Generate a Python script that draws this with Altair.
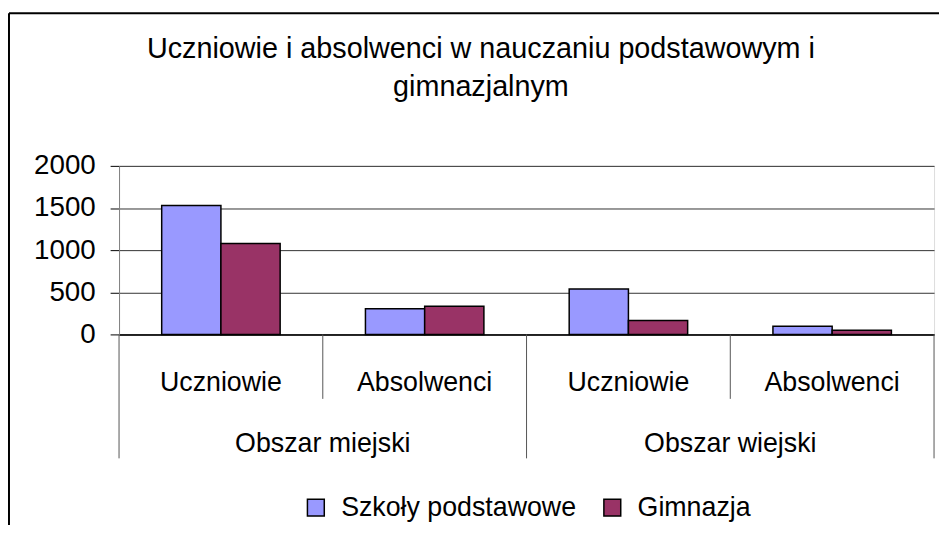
import altair as alt
import pandas as pd

# ---- data ----
groups = ["Obszar miejski", "Obszar wiejski"]
subcats = ["Uczniowie", "Absolwenci"]
series = ["Szkoły podstawowe", "Gimnazja"]
szkoly_podstawowe = [1530, 305, 540, 97]
gimnazja = [1080, 333, 165, 50]
y_ticks = [0, 500, 1000, 1500, 2000]
title_lines = ["Uczniowie i absolwenci w nauczaniu podstawowym i", "gimnazjalnym"]
colors = ["#9999FF", "#993366"]

FONT = "Liberation Sans"
W, H = 822, 170

cats = [f"{g}|{s}" for g in groups for s in subcats]
rows = []
for i, c in enumerate(cats):
    rows.append({"cat": c, "series": series[0], "value": szkoly_podstawowe[i]})
    rows.append({"cat": c, "series": series[1], "value": gimnazja[i]})
bars_df = pd.DataFrame(rows)
cat_df = pd.DataFrame({
    "cat": cats,
    "sub": [c.split("|")[1] for c in cats],
    "group": [c.split("|")[0] for c in cats],
})

xscale = alt.Scale(domain=cats, paddingInner=0, paddingOuter=0)

bars = alt.Chart(bars_df).mark_bar(stroke="black", strokeWidth=1.5).encode(
    x=alt.X("cat:N", scale=xscale,
            axis=alt.Axis(labels=False, ticks=False, title=None, grid=False,
                          domainColor="black", domainWidth=1.5)),
    xOffset=alt.XOffset("series:N", sort=series,
                        scale=alt.Scale(domain=series, paddingOuter=0.72, paddingInner=0)),
    y=alt.Y("value:Q", scale=alt.Scale(domain=[0, 2000], nice=False),
            axis=alt.Axis(values=y_ticks, format="d", title=None, grid=True,
                          gridColor="#333333", gridWidth=1, domainColor="#808080",
                          tickColor="black", tickSize=9, labelPadding=15,
                          labelFontSize=28, labelFont=FONT, labelColor="black")),
    color=alt.Color("series:N", sort=series,
                    scale=alt.Scale(domain=series, range=colors),
                    legend=alt.Legend(orient="none", legendX=185, legendY=331,
                                      direction="horizontal", title=None,
                                      symbolType="square", symbolSize=289,
                                      symbolStrokeColor="black", symbolStrokeWidth=1.5,
                                      symbolOpacity=1, labelLimit=500,
                                      labelFontSize=27, labelFont=FONT,
                                      labelColor="black", labelOffset=12,
                                      columnPadding=22)),
)

inner_sep = alt.Chart(cat_df).transform_filter(
    alt.datum.sub == subcats[1]
).mark_rule(color="#555555", strokeWidth=1).encode(
    x=alt.X("cat:N", scale=xscale, bandPosition=0),
    y=alt.value(H), y2=alt.value(H + 65),
)

outer_sep = alt.Chart(cat_df).transform_filter(
    alt.datum.sub == subcats[0]
).mark_rule(color="#555555", strokeWidth=1).encode(
    x=alt.X("cat:N", scale=xscale, bandPosition=0),
    y=alt.value(H), y2=alt.value(H + 125),
)

end_sep = alt.Chart(cat_df).transform_filter(
    alt.datum.cat == cats[-1]
).mark_rule(color="#555555", strokeWidth=1).encode(
    x=alt.X("cat:N", scale=xscale, bandPosition=1),
    y=alt.value(H), y2=alt.value(H + 125),
)

sub_labels = alt.Chart(cat_df).mark_text(
    fontSize=27, font=FONT, color="black", baseline="middle", align="center"
).encode(
    x=alt.X("cat:N", scale=xscale, bandPosition=0.5),
    y=alt.value(H + 49),
    text="sub:N",
)

group_labels = alt.Chart(cat_df).transform_filter(
    alt.datum.sub == subcats[0]
).mark_text(
    fontSize=27, font=FONT, color="black", baseline="middle", align="center"
).encode(
    x=alt.X("cat:N", scale=xscale, bandPosition=1),
    y=alt.value(H + 111),
    text="group:N",
)

title_df = pd.DataFrame({"title": ["\n".join(title_lines)]})
title = alt.Chart(title_df).mark_text(
    fontSize=29, font=FONT, color="black", baseline="middle", align="center",
    lineBreak="\n", lineHeight=39
).encode(
    x=alt.value(365), y=alt.value(-118), text="title:N"
)

frame_data = alt.Data(values=[{}])
frame_top = alt.Chart(frame_data).mark_rule(color="black", strokeWidth=2).encode(
    x=alt.value(-111), x2=alt.value(830), y=alt.value(-154)
)
frame_left = alt.Chart(frame_data).mark_rule(color="black", strokeWidth=2).encode(
    x=alt.value(-111), y=alt.value(-154), y2=alt.value(370)
)

chart = alt.layer(
    bars, inner_sep, outer_sep, end_sep, sub_labels, group_labels, title,
    frame_top, frame_left
).properties(
    width=W, height=H,
    autosize=alt.AutoSizeParams(type="none"),
    padding={"left": 112, "top": 157, "right": 5, "bottom": 190},
).configure_view(
    stroke="#808080", strokeWidth=1
).configure(background="white")

chart.save("out.html", embed_options={"renderer": "svg", "actions": False})
